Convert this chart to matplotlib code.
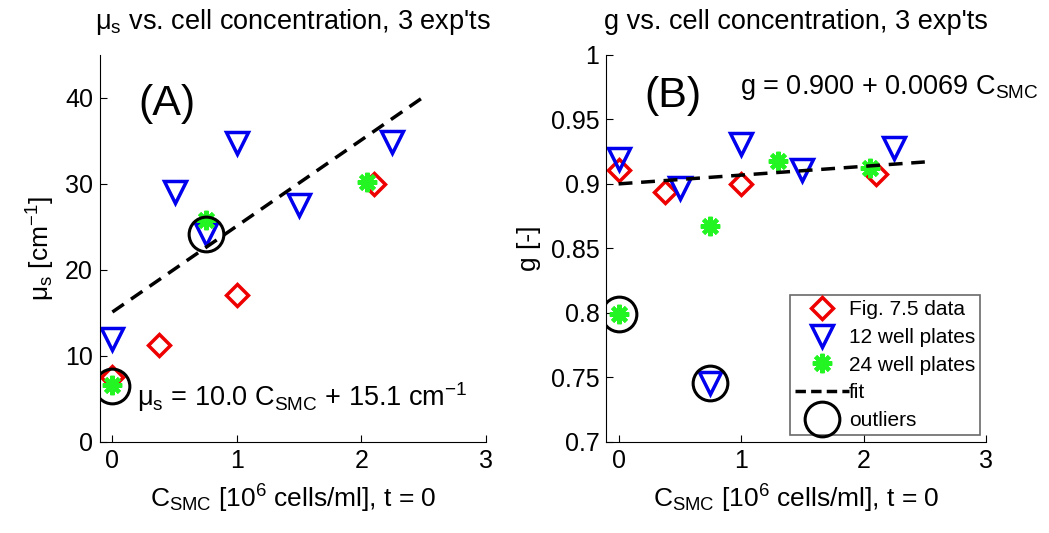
import numpy as np
import matplotlib
matplotlib.use('Agg')
import matplotlib.pyplot as plt
from matplotlib.lines import Line2D

plt.rcParams['font.family'] = ['Liberation Sans', 'DejaVu Sans']
plt.rcParams['mathtext.fontset'] = 'custom'
plt.rcParams['mathtext.rm'] = 'Liberation Sans'
plt.rcParams['mathtext.it'] = 'Liberation Sans'
plt.rcParams['mathtext.default'] = 'regular'

# ---- data (C_SMC in 10^6 cells/ml) ----
# panel A: mu_s [cm^-1]
fig75_x = [0.0, 0.375, 1.0, 2.1]
fig75_mu = [7.5, 11.3, 17.1, 30.0]
well12_x = [0.0, 0.5, 0.75, 1.0, 1.5, 2.25]
well12_mu = [12.0, 29.0, 24.2, 34.8, 27.6, 34.9]
well24_x = [0.0, 0.75, 2.05]
well24_mu = [6.6, 25.8, 30.2]
outA_x = [0.0, 0.75]
outA_mu = [6.5, 24.2]
fitA_x = [0.0, 2.5]
fitA_mu = [15.1, 40.1]

# panel B: g [-]
fig75_g = [0.911, 0.894, 0.900, 0.908]
well12_g = [0.919, 0.897, 0.746, 0.931, 0.911, 0.928]
well24_xB = [0.0, 0.75, 1.3, 2.05]
well24_g = [0.799, 0.867, 0.918, 0.912]
outB_x = [0.0, 0.75]
outB_g = [0.799, 0.746]
fitB_x = [0.0, 2.5]
fitB_g = [0.900, 0.917]

yticksB = [0.7, 0.75, 0.8, 0.85, 0.9, 0.95, 1.0]
yticklabelsB = ['0.7', '0.75', '0.8', '0.85', '0.9', '0.95', '1']

RED = '#ee0000'
BLUE = '#0000ee'
GREEN = '#22f522'
ast = (8, 2, 0)

fig = plt.figure(figsize=(10.49, 5.33), dpi=100)
axA = fig.add_axes([0.0953, 0.171, 0.3677, 0.726])
axB = fig.add_axes([0.578, 0.171, 0.362, 0.726])


def draw(ax, xr, yr, x12, y12, x24, y24, xo, yo, xf, yf):
    ax.plot(xr, yr, ls='none', marker='D', ms=11, mfc='none', mec=RED, mew=2.5)
    ax.plot(x12, y12, ls='none', marker='v', ms=16, mfc='none', mec=BLUE, mew=2.5)
    ax.plot(x24, y24, ls='none', marker=ast, ms=14, mec=GREEN, mew=3)
    ax.plot(xf, yf, 'k--', lw=2.5, dashes=(4, 2.5))
    ax.plot(xo, yo, ls='none', marker='o', ms=25, mfc='none', mec='k', mew=2.2)
    for s in ['top', 'right']:
        ax.spines[s].set_visible(False)
    ax.tick_params(direction='in', length=5, labelsize=18, pad=5)
    ax.set_xlim(-0.1, 3)
    ax.set_xticks([0, 1, 2, 3])
    ax.set_xlabel(r'C$_{SMC}$ [10$^6$ cells/ml], t = 0', fontsize=19, labelpad=7)


draw(axA, fig75_x, fig75_mu, well12_x, well12_mu, well24_x, well24_mu,
     outA_x, outA_mu, fitA_x, fitA_mu)
axA.set_ylim(0, 45)
axA.set_yticks([0, 10, 20, 30, 40])
axA.set_ylabel(r'$\mu_s$ [cm$^{-1}$]', fontsize=19, labelpad=6)
axA.set_title(r"$\mu_s$ vs. cell concentration, 3 exp'ts", fontsize=19.5, pad=19)
axA.text(0.44, 39.3, '(A)', fontsize=31, ha='center', va='center')
axA.text(0.2, 5.2, r'$\mu_s$ = 10.0 C$_{SMC}$ + 15.1 cm$^{-1}$', fontsize=19.5,
         ha='left', va='center')

draw(axB, fig75_x, fig75_g, well12_x, well12_g, well24_xB, well24_g,
     outB_x, outB_g, fitB_x, fitB_g)
axB.set_ylim(0.7, 1.0)
axB.set_yticks(yticksB)
axB.set_yticklabels(yticklabelsB)
axB.set_ylabel('g [-]', fontsize=19, labelpad=7)
axB.set_title("g vs. cell concentration, 3 exp'ts", fontsize=19.5, pad=19)
axB.text(0.44, 0.968, '(B)', fontsize=31, ha='center', va='center')
axB.text(0.995, 0.975, r'g = 0.900 + 0.0069 C$_{SMC}$', fontsize=19.5,
         ha='left', va='center')

handles = [
    Line2D([], [], ls='none', marker='D', ms=11, mfc='none', mec=RED, mew=2.5),
    Line2D([], [], ls='none', marker='v', ms=16, mfc='none', mec=BLUE, mew=2.5),
    Line2D([], [], ls='none', marker=ast, ms=14, mec=GREEN, mew=3),
    Line2D([], [], color='k', ls='--', lw=2.5, dashes=(3, 1.5)),
    Line2D([], [], ls='none', marker='o', ms=25, mfc='none', mec='k', mew=2.2),
]
labels = ['Fig. 7.5 data', '12 well plates', '24 well plates', 'fit', 'outliers']
leg = axB.legend(handles, labels, loc='lower right', bbox_to_anchor=(0.985, 0.017),
                 fontsize=15, frameon=True, fancybox=False, edgecolor='#444444',
                 handlelength=2.6, handletextpad=0.0, labelspacing=0.42,
                 borderpad=0.25, borderaxespad=0)
leg.get_frame().set_linewidth(1.2)

fig.savefig('out.png', dpi=100)
